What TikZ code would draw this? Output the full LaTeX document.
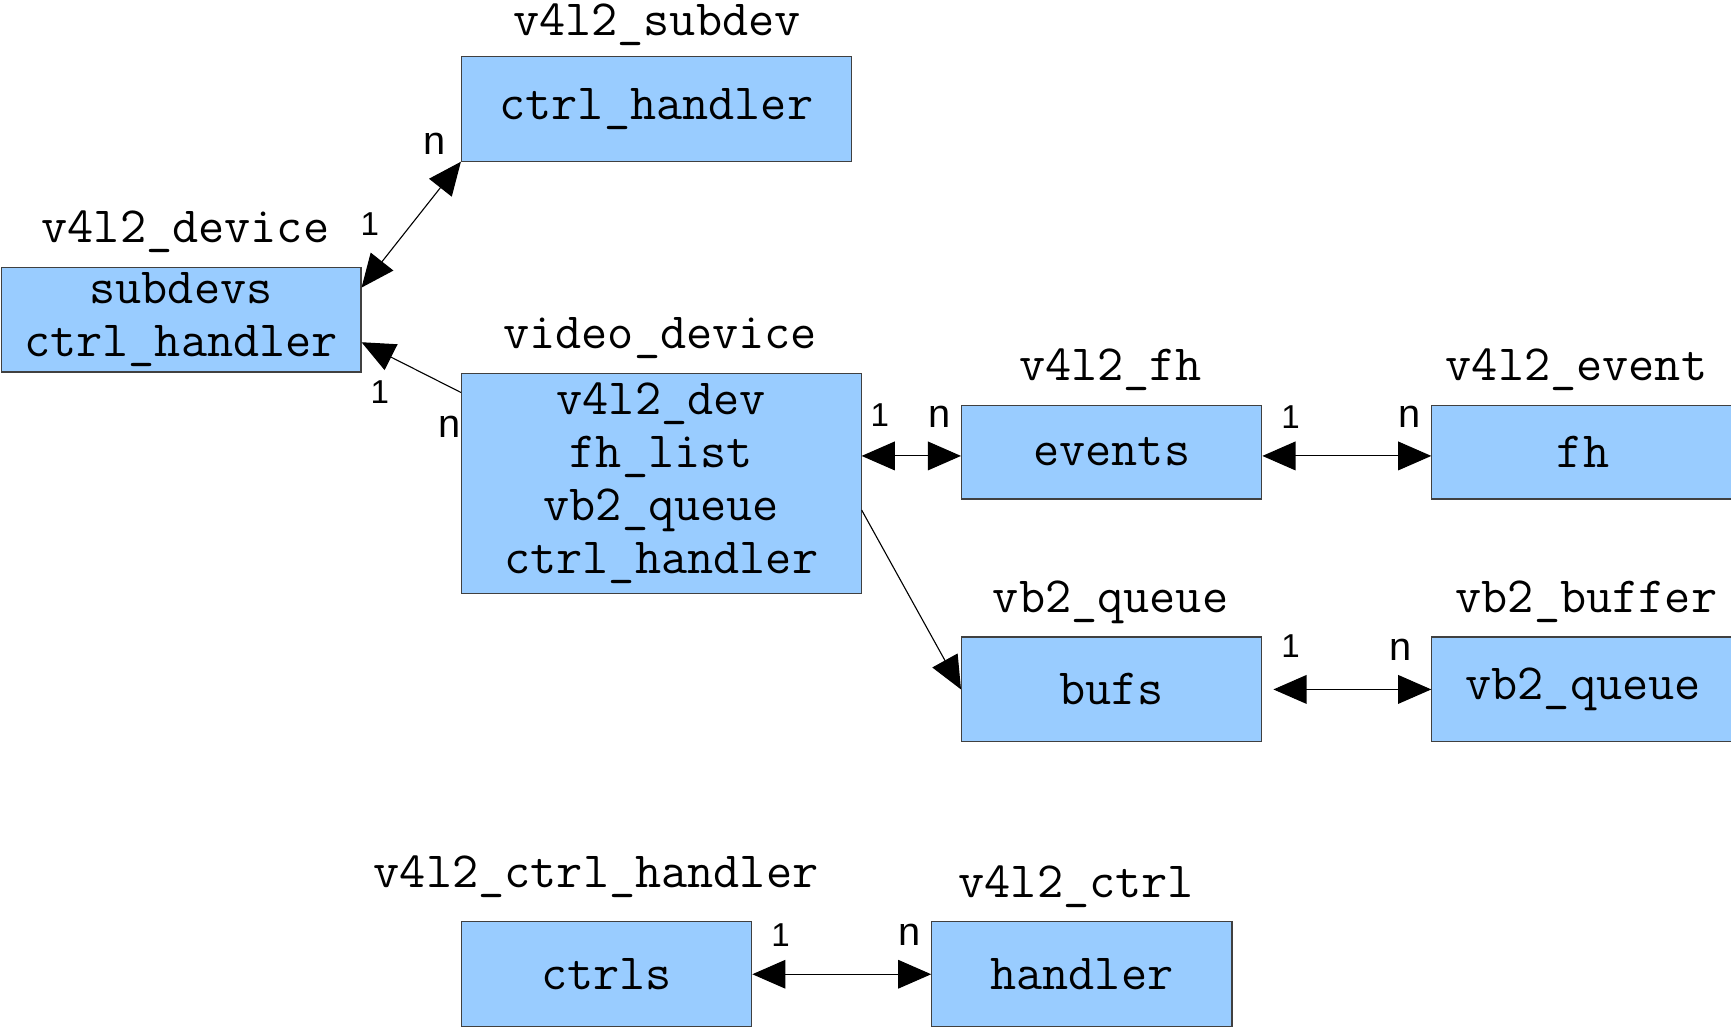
\documentclass[tikz,border=0pt]{standalone}
\usepackage{fontspec}
\setsansfont{Liberation Sans}
\usetikzlibrary{arrows.meta, calc}
\definecolor{boxblue}{HTML}{99CCFF}

\tikzset{
  box/.style={draw=black!75, fill=boxblue, line width=0.5pt, inner sep=0pt,
    align=center, font=\ttfamily\fontsize{23}{24}\selectfont},
  title/.style={anchor=base, inner sep=0pt, font=\ttfamily\fontsize{23}{24}\selectfont},
  card/.style={inner sep=0pt, font=\sffamily\fontsize{15}{16}\selectfont},
  many/.style={card, font=\sffamily\fontsize{18}{18}\selectfont},
  link/.style={line width=0.5pt, -{Triangle[length=15pt,width=13pt]}},
  both/.style={line width=0.5pt, {Triangle[length=15pt,width=13pt]}-{Triangle[length=15pt,width=13pt]}},
}

\begin{document}
\begin{tikzpicture}[x=0.5pt, y=-0.5pt]
\useasboundingbox (0,0) rectangle (1568,931);

% structures
\node[box, minimum width=176.5pt, minimum height=47.5pt] (sub) at (594.5,98.5) {ctrl\_handler};
\node[box, minimum width=163pt, minimum height=47.5pt] (dev) at (164,289.5) {subdevs\\ctrl\_handler};
\node[box, minimum width=181pt, minimum height=100pt] (vid) at (599,438) {v4l2\_dev\\fh\_list\\vb2\_queue\\ctrl\_handler};
\node[box, minimum width=136pt, minimum height=42.5pt] (fh) at (1007,409.5) {events};
\node[box, minimum width=137pt, minimum height=42.5pt] (ev) at (1434,409.5) {fh};
\node[box, minimum width=136pt, minimum height=47.5pt] (q) at (1007,624.5) {bufs};
\node[box, minimum width=137pt, minimum height=47.5pt] (buf) at (1434,624.5) {vb2\_queue};
\node[box, minimum width=131.5pt, minimum height=47.5pt] (hnd) at (549.5,882.5) {ctrls};
\node[box, minimum width=136pt, minimum height=47.5pt] (ctl) at (980,882.5) {handler};

% type names
\node[title] (subT) at (595,32) {v4l2\_subdev};
\node[title] (devT) at (168,220) {v4l2\_device};
\node[title] (vidT) at (598,316) {video\_device};
\node[title] (fhT) at (1006,345) {v4l2\_fh};
\node[title] (evT) at (1428,345) {v4l2\_event};
\node[title] (qT) at (1006,555) {vb2\_queue};
\node[title] (bufT) at (1437,555) {vb2\_buffer};
\node[title] (hndT) at (540,804) {v4l2\_ctrl\_handler};
\node[title] (ctlT) at (975,813) {v4l2\_ctrl};

% links
\draw[both] ([yshift=-9.5pt]dev.north east) -- (sub.south west);
\draw[link] ([yshift=-9pt]vid.north west) -- ([yshift=-10.25pt]dev.east);
\draw[both] ([yshift=12.5pt]vid.east) -- ([yshift=-1.75pt]fh.west);
\draw[both] ([yshift=-1.75pt]fh.east) -- ([yshift=-1.75pt]ev.west);
\draw[link] ([yshift=-12pt]vid.east) -- (q.west);
\draw[both] ([xshift=5pt]q.east) -- (buf.west);
\draw[both] (hnd.east) -- (ctl.west);

% multiplicities
\node[card] (c1) at (335,203) {1};
\node[many] (c2) at (394,130) {n};
\node[card] (c3) at (344,355) {1};
\node[many] (c4) at (407,387) {n};
\node[card] (c5) at (797,376) {1};
\node[many] (c6) at (851,378) {n};
\node[card] (c7) at (1169,378) {1};
\node[many] (c8) at (1277,378) {n};
\node[card] (c9) at (1169,585) {1};
\node[many] (c10) at (1269,589) {n};
\node[card] (c11) at (707,847) {1};
\node[many] (c12) at (824,847) {n};

\end{tikzpicture}
\end{document}
